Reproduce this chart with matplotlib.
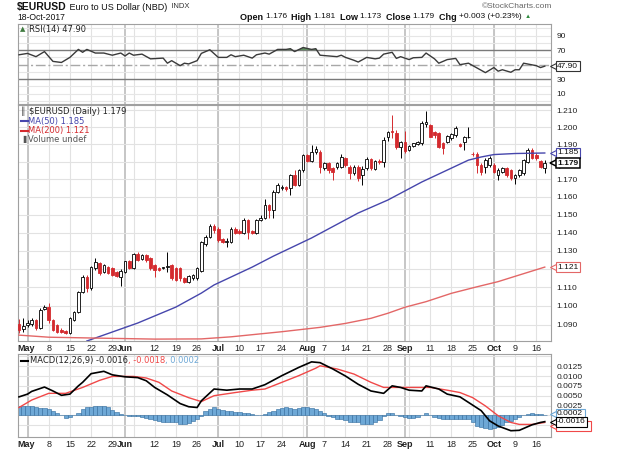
import numpy as np
import pandas as pd
import matplotlib
matplotlib.use("Agg")
import matplotlib.pyplot as plt
import matplotlib.transforms as mtransforms
from matplotlib.lines import Line2D
from matplotlib.ticker import FixedLocator, NullLocator

plt.rcParams['font.family'] = ['Liberation Sans', 'DejaVu Sans']

# trading days on the chart (Apr 27 .. Oct 18 2017)
days = pd.bdate_range("2017-04-27", "2017-10-18")

opens = [1.0902, 1.0877, 1.0898, 1.0902, 1.0925, 1.0881, 1.0984, 1.0996, 1.0925, 1.0898,
         1.0872, 1.0867, 1.0855, 1.0925, 1.0969, 1.1076, 1.1158, 1.1095, 1.1203, 1.1231,
         1.1181, 1.1212, 1.1203, 1.1181, 1.1158, 1.1185, 1.1243, 1.1203, 1.1280, 1.1253,
         1.1276, 1.1258, 1.1221, 1.1207, 1.1206, 1.1210, 1.1221, 1.1203, 1.1203, 1.1149,
         1.1131, 1.1149, 1.1149, 1.1190, 1.1335, 1.1375, 1.1437, 1.1420, 1.1364, 1.1348,
         1.1349, 1.1420, 1.1410, 1.1397, 1.1470, 1.1408, 1.1397, 1.1470, 1.1481, 1.1554,
         1.1523, 1.1629, 1.1650, 1.1655, 1.1650, 1.1723, 1.1666, 1.1752, 1.1838, 1.1805,
         1.1857, 1.1857, 1.1762, 1.1790, 1.1762, 1.1771, 1.1771, 1.1819, 1.1771, 1.1733,
         1.1771, 1.1725, 1.1762, 1.1815, 1.1760, 1.1805, 1.1797, 1.1944, 1.1978, 1.1965,
         1.1885, 1.1912, 1.1870, 1.1890, 1.1900, 1.1905, 1.2020, 1.2012, 1.1973, 1.1963,
         1.1910, 1.1915, 1.1934, 1.1954, 1.1900, 1.1915, 1.1940, 1.1847, 1.1847, 1.1780,
         1.1771, 1.1780, 1.1780, 1.1723, 1.1743, 1.1762, 1.1752, 1.1705, 1.1723, 1.1733,
         1.1800, 1.1867, 1.1838, 1.1805, 1.1762]
highs = [1.0930, 1.0937, 1.0925, 1.0935, 1.0932, 1.0990, 1.1005, 1.1014, 1.0932, 1.0905,
         1.0880, 1.0872, 1.0940, 1.0975, 1.1082, 1.1165, 1.1165, 1.1218, 1.1261, 1.1240,
         1.1228, 1.1218, 1.1210, 1.1188, 1.1200, 1.1246, 1.1250, 1.1285, 1.1290, 1.1282,
         1.1280, 1.1265, 1.1228, 1.1212, 1.1212, 1.1294, 1.1228, 1.1210, 1.1210, 1.1155,
         1.1167, 1.1172, 1.1210, 1.1355, 1.1385, 1.1445, 1.1450, 1.1430, 1.1370, 1.1368,
         1.1430, 1.1430, 1.1418, 1.1480, 1.1478, 1.1415, 1.1475, 1.1500, 1.1585, 1.1560,
         1.1640, 1.1680, 1.1665, 1.1662, 1.1730, 1.1750, 1.1760, 1.1845, 1.1845, 1.1899,
         1.1890, 1.1865, 1.1800, 1.1798, 1.1770, 1.1800, 1.1845, 1.1825, 1.1780, 1.1780,
         1.1780, 1.1775, 1.1825, 1.1822, 1.1812, 1.1815, 1.1940, 1.1980, 1.2071, 1.1985,
         1.1920, 1.1980, 1.1895, 1.1910, 1.1922, 1.2035, 1.2092, 1.2020, 1.1980, 1.1970,
         1.1915, 1.1952, 1.1968, 1.2005, 1.1905, 1.1950, 1.2002, 1.1857, 1.1855, 1.1790,
         1.1820, 1.1830, 1.1790, 1.1765, 1.1770, 1.1770, 1.1760, 1.1730, 1.1760, 1.1815,
         1.1880, 1.1880, 1.1850, 1.1812, 1.1810]
lows = [1.0855, 1.0863, 1.0890, 1.0895, 1.0872, 1.0876, 1.0978, 1.0907, 1.0865, 1.0858,
        1.0855, 1.0850, 1.0850, 1.0920, 1.0962, 1.1070, 1.1076, 1.1088, 1.1195, 1.1167,
        1.1176, 1.1170, 1.1160, 1.1155, 1.1109, 1.1180, 1.1200, 1.1198, 1.1245, 1.1248,
        1.1240, 1.1195, 1.1158, 1.1190, 1.1198, 1.1185, 1.1140, 1.1132, 1.1135, 1.1125,
        1.1125, 1.1140, 1.1140, 1.1185, 1.1325, 1.1370, 1.1400, 1.1350, 1.1340, 1.1320,
        1.1340, 1.1390, 1.1390, 1.1390, 1.1364, 1.1390, 1.1390, 1.1465, 1.1475, 1.1480,
        1.1480, 1.1620, 1.1640, 1.1635, 1.1610, 1.1660, 1.1660, 1.1740, 1.1800, 1.1800,
        1.1845, 1.1733, 1.1750, 1.1735, 1.1695, 1.1760, 1.1765, 1.1770, 1.1700, 1.1725,
        1.1690, 1.1666, 1.1755, 1.1755, 1.1752, 1.1785, 1.1770, 1.1920, 1.1935, 1.1875,
        1.1822, 1.1850, 1.1862, 1.1882, 1.1895, 1.1895, 1.2000, 1.1940, 1.1935, 1.1880,
        1.1847, 1.1908, 1.1928, 1.1945, 1.1885, 1.1867, 1.1935, 1.1833, 1.1735, 1.1723,
        1.1735, 1.1770, 1.1735, 1.1695, 1.1735, 1.1715, 1.1695, 1.1675, 1.1715, 1.1725,
        1.1795, 1.1815, 1.1812, 1.1765, 1.1733]
closes = [1.0872, 1.0893, 1.0907, 1.0925, 1.0881, 1.0978, 1.0996, 1.0925, 1.0872, 1.0863,
          1.0860, 1.0855, 1.0934, 1.0969, 1.1076, 1.1158, 1.1098, 1.1212, 1.1239, 1.1176,
          1.1221, 1.1176, 1.1167, 1.1161, 1.1189, 1.1243, 1.1207, 1.1280, 1.1249, 1.1276,
          1.1249, 1.1203, 1.1194, 1.1194, 1.1208, 1.1214, 1.1149, 1.1140, 1.1149, 1.1131,
          1.1161, 1.1167, 1.1203, 1.1349, 1.1375, 1.1437, 1.1414, 1.1359, 1.1350, 1.1352,
          1.1420, 1.1400, 1.1397, 1.1470, 1.1405, 1.1397, 1.1470, 1.1480, 1.1554, 1.1523,
          1.1629, 1.1666, 1.1655, 1.1645, 1.1723, 1.1666, 1.1752, 1.1838, 1.1805, 1.1857,
          1.1872, 1.1771, 1.1790, 1.1752, 1.1743, 1.1794, 1.1828, 1.1780, 1.1733, 1.1771,
          1.1705, 1.1760, 1.1815, 1.1762, 1.1805, 1.1798, 1.1925, 1.1973, 1.1970, 1.1885,
          1.1912, 1.1862, 1.1890, 1.1905, 1.1915, 1.2026, 1.2030, 1.1944, 1.1954, 1.1885,
          1.1880, 1.1946, 1.1960, 1.1993, 1.1890, 1.1944, 1.1944, 1.1843, 1.1780, 1.1743,
          1.1809, 1.1819, 1.1743, 1.1752, 1.1762, 1.1723, 1.1705, 1.1723, 1.1752, 1.1809,
          1.1867, 1.1819, 1.1819, 1.1771, 1.1790]

# moving averages, read at day positions
ma50_pos = [16, 28, 37, 43, 46, 55, 60, 69, 80, 87, 95, 101, 106, 109, 112, 117, 124]
ma50_val = [1.0814, 1.0909, 1.0994, 1.1069, 1.1113, 1.1210, 1.1270, 1.1370, 1.1509,
            1.1582, 1.1684, 1.1752, 1.1809, 1.1827, 1.1841, 1.1847, 1.1850]
ma200_pos = [0, 7, 19, 32, 43, 50, 62, 71, 77, 83, 87, 91, 96, 102, 108, 113, 118, 124]
ma200_val = [1.0845, 1.0834, 1.0829, 1.0824, 1.0825, 1.0836, 1.0863, 1.0886, 1.0907,
             1.0934, 1.0961, 1.0993, 1.1023, 1.1068, 1.1103, 1.1131, 1.1167, 1.1210]

# RSI(14)
rsi_pos = [0, 2, 4, 6, 8, 10, 12, 14, 15, 16, 18, 20, 22, 24, 25, 26, 27, 29, 31, 34,
           35, 36, 38, 39, 40, 42, 43, 45, 47, 49, 50, 51, 53, 55, 56, 58, 59, 61, 63, 64,
           65, 67, 69, 70, 71, 73, 75, 76, 77, 79, 80, 82, 84, 85, 86, 88, 89, 90, 92, 93,
           95, 96, 98, 99, 101, 103, 104, 106, 108, 110, 112, 113, 114, 116, 117, 118, 119,
           122, 123, 124]
rsi_val = [63.6, 65.5, 61, 68, 54.5, 53, 60, 71, 67, 71, 66, 66, 63, 66, 62, 66, 63, 64.5,
           58, 59, 52, 55.5, 48.6, 52, 51, 55.5, 65.5, 70.5, 60, 60, 63.6, 61, 63, 59, 63.6,
           66, 64.5, 71, 71, 72, 68, 73.6, 71, 72, 63, 62, 61, 63, 60, 56, 53.6, 60, 58, 59,
           64.5, 67, 58.6, 61, 57, 59.5, 60, 66, 58, 52, 57, 58.6, 50, 52, 45.5, 39, 46, 41,
           43, 39.5, 43, 43, 52, 48.6, 46, 47.9]

# MACD(12,26,9)
macd_pos = [0, 2, 3, 6, 8, 10, 12, 14, 15, 17, 20, 22, 25, 28, 30, 32, 35, 38, 40, 42, 43,
            46, 49, 52, 55, 58, 62, 66, 69, 71, 74, 77, 80, 83, 86, 88, 90, 92, 95, 96, 99,
            101, 104, 106, 109, 111, 113, 116, 118, 121, 123, 124]
macd_val = [0.0047, 0.0054, 0.0061, 0.0072, 0.0062, 0.0051, 0.0054, 0.0075, 0.0084, 0.0106,
            0.0112, 0.0103, 0.0098, 0.0096, 0.0088, 0.0071, 0.0052, 0.0030, 0.0022, 0.0020,
            0.0037, 0.0067, 0.0064, 0.0067, 0.0067, 0.0078, 0.0101, 0.0122, 0.0136, 0.0134,
            0.0118, 0.0100, 0.0079, 0.0062, 0.0056, 0.0075, 0.0071, 0.0064, 0.0062, 0.0075,
            0.0067, 0.0054, 0.0047, 0.0033, 0.0012, -0.0014, -0.0027, -0.0039, -0.0038,
            -0.0024, -0.0018, -0.0016]
sig_pos = [0, 3, 7, 11, 15, 19, 22, 27, 30, 33, 36, 40, 43, 46, 51, 55, 58, 62, 66, 70, 71,
           75, 79, 83, 86, 89, 93, 97, 101, 104, 107, 110, 113, 116, 118, 121, 124]
sig_val = [0.0020, 0.0039, 0.0056, 0.0056, 0.0071, 0.0089, 0.0099, 0.0099, 0.0095, 0.0084,
           0.0062, 0.0045, 0.0035, 0.0050, 0.0058, 0.0064, 0.0067, 0.0084, 0.0101, 0.0120,
           0.0126, 0.0118, 0.0105, 0.0084, 0.0071, 0.0071, 0.0071, 0.0071, 0.0064, 0.0058,
           0.0045, 0.0024, -0.0001, -0.0018, -0.0023, -0.0023, -0.0018]
hist = [0.0025, 0.0025, 0.0024, 0.0024, 0.0020, 0.0018, 0.0018, 0.0017, 0.0011, 0.0006,
        0.0001, -0.0006, -0.0005, 0.0002, 0.0005, 0.0015, 0.0020, 0.0022, 0.0025, 0.0025,
        0.0023, 0.0020, 0.0014, 0.0009, 0.0004, 0.0000, -0.0001, -0.0002, -0.0002, -0.0003,
        -0.0006, -0.0008, -0.0011, -0.0014, -0.0016, -0.0017, -0.0017, -0.0018, -0.0022, -0.0023,
        -0.0020, -0.0015, -0.0009, -0.0002, 0.0012, 0.0016, 0.0020, 0.0017, 0.0013, 0.0011,
        0.0010, 0.0008, 0.0008, 0.0007, 0.0005, 0.0003, 0.0001, 0.0000, 0.0004, 0.0008,
        0.0012, 0.0015, 0.0019, 0.0020, 0.0018, 0.0017, 0.0018, 0.0020, 0.0020, 0.0019,
        0.0016, 0.0012, 0.0006, -0.0002, -0.0005, -0.0008, -0.0009, -0.0012, -0.0016, -0.0017,
        -0.0018, -0.0022, -0.0023, -0.0021, -0.0018, -0.0012, -0.0002, 0.0005, 0.0007, 0.0002,
        -0.0001, -0.0005, -0.0006, -0.0006, -0.0004, 0.0002, 0.0005, 0.0001, -0.0003, -0.0006,
        -0.0008, -0.0008, -0.0008, -0.0009, -0.0010, -0.0010, -0.0010, -0.0016, -0.0026, -0.0030,
        -0.0033, -0.0034, -0.0032, -0.0029, -0.0025, -0.0018, -0.0014, -0.0009, -0.0004, 0.0001,
        0.0004, 0.0005, 0.0004, 0.0003, 0.0002]

RED = '#d42a2e'
BLUE = '#4646ac'
MA200_RED = '#e36767'
SIG_RED = '#f04848'
HIST_BLUE = '#6ea8d6'

W, H = 635, 450
fig = plt.figure(figsize=(W / 100, H / 100), dpi=100)


def add_ax(top, bottom):
    return fig.add_axes([17.5 / W, 1 - bottom / H, (551 - 17.5) / W, (bottom - top) / H])


ax_rsi = add_ax(24, 104)
ax_p = add_ax(105, 341)
ax_m = add_ax(354, 437)

x = np.arange(len(days))
mondays = [k for k in x if days[k].weekday() == 0]
month_starts = [k for k in x[1:] if days[k].month != days[k - 1].month]

labels = []
for k in sorted(set(mondays) | set(month_starts)):
    if k in month_starts:
        labels.append((k, days[k].strftime('%b'), True))
    elif min(abs(k - m) for m in month_starts) > 2:
        labels.append((k, str(days[k].day), False))

XL = (-0.36, 125.47)
for ax in (ax_rsi, ax_p, ax_m):
    for k in mondays:
        ax.axvline(k, color='#e2e2e2', lw=0.8, zorder=0)
    for k in month_starts:
        ax.axvline(k, color='#c2c2c2', lw=1.3, zorder=0)
    for s in ax.spines.values():
        s.set_color('#a0a0a0')
        s.set_linewidth(0.8)
    ax.yaxis.tick_right()
    ax.tick_params(axis='y', length=0, pad=4, labelsize=6, labelcolor='#222222')
    ax.tick_params(axis='x', length=0, pad=2, labelsize=6.5, labelcolor='#222222')

ax_rsi.set_xticks([])
for ax in (ax_p, ax_m):
    ax.set_xticks([XL[0] if i == 0 else p for i, (p, lab, b) in enumerate(labels)])
    ax.set_xticklabels([lab for p, lab, b in labels])
    for i, (t, (p, lab, b)) in enumerate(zip(ax.get_xticklabels(), labels)):
        if b:
            t.set_fontweight('bold')
        if i == 0:
            t.set_ha('left')

# ---- RSI panel
for v in (0, 10, 20, 40, 60, 80, 90, 100):
    ax_rsi.axhline(v, color='#e6e6e6', lw=0.8, zorder=0)
ax_rsi.axhline(70, color='#7a7a7a', lw=1.0, zorder=1)
ax_rsi.axhline(30, color='#7a7a7a', lw=1.0, zorder=1)
ax_rsi.axhline(50, color='#a8a8a8', lw=1.0, ls=(0, (7, 2, 1.5, 2)), zorder=1)
rv = np.array(rsi_val)
ax_rsi.fill_between(rsi_pos, rv, 70, where=rv > 70, interpolate=True, color='#5f8f5f', lw=0, zorder=2)
ax_rsi.plot(rsi_pos, rsi_val, color='#3a3a3a', lw=1.0, zorder=3)
ax_rsi.set_ylim(-4.2, 106)
ax_rsi.set_yticks([10, 30, 70, 90])

# ---- price panel
o, h, l, c = map(np.array, (opens, highs, lows, closes))
up = c >= o
ax_p.vlines(x, l, h, colors=np.where(up, 'black', RED), lw=0.7, zorder=2)
lo = np.minimum(o, c)
hi = np.maximum(o, c)
ax_p.bar(x, hi - lo, bottom=lo, width=0.62, color=np.where(up, 'white', RED),
         edgecolor=np.where(up, 'black', RED), lw=0.6, zorder=3)
ax_p.plot(ma50_pos, ma50_val, color=BLUE, lw=1.0, zorder=4)
ax_p.plot(ma200_pos, ma200_val, color=MA200_RED, lw=1.0, zorder=4)
ax_p.set_yscale('log')
pticks = [round(1.09 + 0.01 * k, 3) for k in range(13)]
for v in pticks:
    ax_p.axhline(v, color='#e2e2e2', lw=0.8, zorder=0)
ax_p.yaxis.set_major_locator(FixedLocator(pticks))
ax_p.yaxis.set_minor_locator(NullLocator())
ax_p.set_yticklabels(['' if v in (1.12, 1.18) else '%.3f' % v for v in pticks])
ax_p.set_ylim(1.0814, 1.2130)

# ---- MACD panel
mticks = [-0.0025, 0, 0.0025, 0.005, 0.0075, 0.01, 0.0125, 0.015]
for v in mticks:
    ax_m.axhline(v, color='#e2e2e2', lw=0.8, zorder=0)
ax_m.bar(x, hist, width=1.0, color=HIST_BLUE, edgecolor='#2f6a9c', lw=0.4, zorder=2)
ax_m.plot(sig_pos, sig_val, color=SIG_RED, lw=1.0, zorder=3)
ax_m.plot(macd_pos, macd_val, color='black', lw=1.2, zorder=4)
ax_m.set_yticks([0.0025, 0.005, 0.0075, 0.01, 0.0125])
ax_m.set_yticklabels(['%.4f' % v for v in [0.0025, 0.005, 0.0075, 0.01, 0.0125]])
ax_m.set_ylim(-0.0055, 0.0156)

for ax in (ax_rsi, ax_p, ax_m):
    ax.set_xlim(*XL)


# ---- value tags on the right edge
def tag(ax, val, text, color, dy=0, bold=False, lw=0.8, z=5, text_color='#111111'):
    tr = mtransforms.blended_transform_factory(ax.transAxes, ax.transData)
    mk = mtransforms.offset_copy(tr, fig=fig, x=3.5, y=dy, units='dots')
    ax.plot([1], [val], transform=mk, marker='<', ms=6.5, mfc='white', mec=color,
            mew=lw, clip_on=False, zorder=z, scalex=False, scaley=False)
    ax.annotate(text, xy=(1, val), xycoords=tr, xytext=(6, dy), textcoords='offset pixels',
                va='center', ha='left', fontsize=6, color=text_color,
                fontweight='bold' if bold else 'normal', annotation_clip=False, zorder=z,
                bbox=dict(boxstyle='square,pad=0.18', fc='white', ec=color, lw=lw))


tag(ax_rsi, rsi_val[-1], '47.90', '#333333')
tag(ax_p, ma50_val[-1], '1.185', BLUE)
tag(ax_p, closes[-1], '1.179', 'black', bold=True, lw=1.1, z=6)
tag(ax_p, ma200_val[-1], '1.121', MA200_RED)
# signal tag sits behind the MACD tag, only its red frame shows
tag(ax_m, sig_val[-1], '\u2007' * 7, SIG_RED, dy=-4)
tag(ax_m, hist[-1], '0.0002', HIST_BLUE, dy=1, z=6)
tag(ax_m, macd_val[-1], '-0.0016', 'black', z=7)

# ---- texts around the chart
renderer = fig.canvas.get_renderer()


def text_row(x_px, y_px, pieces):
    for s, kw in pieces:
        t = fig.text(x_px / W, 1 - y_px / H, s, va='center', ha='left', **kw)
        x_px += t.get_window_extent(renderer=renderer).width


def ftext(x_px, y_px, s, **kw):
    return fig.text(x_px / W, 1 - y_px / H, s, va='center', **kw)


def fline(x0, x1, y, color):
    fig.add_artist(Line2D([x0 / W, x1 / W], [1 - y / H, 1 - y / H], color=color, lw=1.5))


text_row(17, 7, [("$EURUSD", dict(fontsize=7.5, fontweight='bold', color='#111111')),
                 (" Euro to US Dollar (NBD)", dict(fontsize=6.5, color='#111111')),
                 ("  INDX", dict(fontsize=5.5, color='#333333'))])
ftext(17, 17, "18-Oct-2017", fontsize=6.2, color='#111111')
ftext(552, 6, "\u00a9StockCharts.com", fontsize=6, color='#666666', ha='right')
bold = dict(fontsize=6.5, fontweight='bold', color='#111111')
reg = dict(fontsize=6, color='#111111')
text_row(240, 17, [("Open ", bold), ("1.176  ", reg), ("High ", bold), ("1.181  ", reg),
                   ("Low ", bold), ("1.173  ", reg), ("Close ", bold), ("1.179  ", reg),
                   ("Chg ", bold), ("+0.003 (+0.23%) ", reg),
                   ("\u25b2", dict(fontsize=4.5, color='#2e8b3e'))])

LEG = dict(fontsize=6, family='DejaVu Sans')
ftext(20, 29.5, "\u25b2", fontsize=5, color='#3f7a3f', family='DejaVu Sans')
ftext(29, 29.5, "RSI(14) 47.90", color='#222222', **LEG)
ftext(21, 111, "\u2551", fontsize=5.5, color='#333333', family='DejaVu Sans')
ftext(29, 111, "$EURUSD (Daily) 1.179", color='#222222', **LEG)
fline(20.5, 27.5, 121, BLUE)
ftext(28, 121, "MA(50) 1.185", color=BLUE, **LEG)
fline(20.5, 27.5, 130.5, RED)
ftext(28, 130.5, "MA(200) 1.121", color=RED, **LEG)
ftext(20.5, 139.5, "\u2590", fontsize=5, color='#555555', family='DejaVu Sans')
ftext(28, 139.5, "Volume undef", color='#555555', **LEG)
fline(20.5, 27.5, 360.5, 'black')
text_row(30, 360.5, [("MACD(12,26,9) -0.0016", dict(color='#222222', **LEG)),
                     (", -0.0018", dict(color=SIG_RED, **LEG)),
                     (", 0.0002", dict(color=HIST_BLUE, **LEG))])

fig.savefig("out.png", dpi=100, facecolor='white')
